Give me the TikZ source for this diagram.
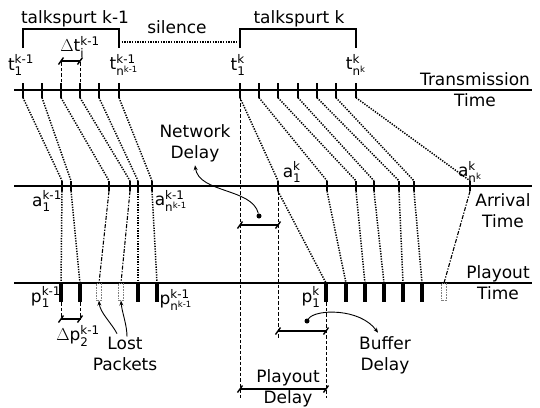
\documentclass[tikz,border=0pt]{standalone}
\usepackage{fontspec}
\setmainfont{DejaVu Sans}
\usepackage{amsmath}
\usetikzlibrary{arrows.meta,decorations.markings}

\begin{document}
\begin{tikzpicture}[x=1pt, y=-1pt,
    every node/.style={font=\fontsize{17}{21}\selectfont},
    axis/.style={line width=1.9pt},
    stick/.style={fill=black, inner sep=0pt, minimum width=2.8pt, minimum height=15pt},
    atick/.style={fill=black, inner sep=0pt, minimum width=2.6pt, minimum height=10pt},
    kept box/.style={fill=black, inner sep=0pt, minimum width=3.2pt, minimum height=19pt, anchor=north},
    lost box/.style={draw=gray, densely dotted, line width=0.6pt, inner sep=0pt, minimum width=5pt, minimum height=17pt, anchor=north},
    ray/.style={line width=1.5pt, dash pattern=on 1.3pt off 1.3pt},
    kept ray/.style={ray},
    lost ray/.style={line width=1.1pt, dash pattern=on 4pt off 1.5pt on 1.3pt off 1.5pt},
    guide/.style={line width=0.8pt, dash pattern=on 3.5pt off 2pt},
    bracket/.style={line width=1.5pt},
    dim/.style={line width=1.4pt, postaction=decorate, decoration={markings,
        mark=at position 0 with {\draw[line width=1.4pt] (-2.5pt,-3.5pt) -- (2.5pt,3.5pt);},
        mark=at position 1 with {\draw[line width=1.4pt] (-2.5pt,-3.5pt) -- (2.5pt,3.5pt);}}},
    pointer/.style={line width=0.9pt, -{Stealth[length=5pt,width=4pt]}},
    dot/.style={circle, fill=black, inner sep=0pt, minimum size=5pt}]

                \useasboundingbox (0,0) rectangle (540,407);

                \draw[axis] (14,90) -- (532,90);
                \draw[axis] (14,186) -- (532,186);
                \draw[axis] (14,283) -- (532,283);

                \node[align=center] at (475,90) (tx-lbl) {Transmission\\Time};
                \node[align=center] at (503,211) (ar-lbl) {Arrival\\Time};
                \node[align=center] at (498,283) (pl-lbl) {Playout\\Time};

                % talkspurt k-1
                \foreach \tx/\ax/\px/\pk [count=\i] in {23/62/61/kept, 42/71/80/kept, 61/109/99/lost,
                        80/130/121/lost, 99/138/138/kept, 119/152/157/kept} {
                    \node[stick] at (\tx,90) (tA\i) {};
                    \node[atick] at (\ax,186) (aA\i) {};
                    \node[\pk\space box] at (\px,283) (pA\i) {};
                    \draw[ray] (tA\i.south) -- (aA\i.north);
                    \draw[\pk\space ray] (aA\i.south) -- (pA\i.north);
                }

                % talkspurt k
                \foreach \tx/\ax/\px/\pk [count=\i] in {240/278/326/kept, 259/327/346/kept, 278/356/365/kept,
                        298/374/384/kept, 317/399/403/kept, 336/414/422/kept, 356/470/444/lost} {
                    \node[stick] at (\tx,90) (tB\i) {};
                    \node[atick] at (\ax,186) (aB\i) {};
                    \node[\pk\space box] at (\px,283) (pB\i) {};
                    \draw[ray] (tB\i.south) -- (aB\i.north);
                    \draw[\pk\space ray] (aB\i.south) -- (pB\i.north);
                }

                \draw[bracket] (tA1 |- 0,48) |- (tA6 |- 0,29) -- (tA6 |- 0,48);
                \draw[bracket] (tB1 |- 0,48) |- (tB7 |- 0,29) -- (tB7 |- 0,48);
                \draw[ray] (tA6 |- 0,42) -- (tB1 |- 0,42);
                \node at (75,19) (ks-prev) {talkspurt k-1};
                \node at (177,27) (silence) {silence};
                \node at (299,19) (ks-cur) {talkspurt k};

                \node at (21,65) (t-first-prev) {t$^{\text{k-1}}_{\text{1}}$};
                \node at (124,65) (t-last-prev) {t$^{\text{k-1}}_{\text{n}^{\text{k-1}}}$};
                \node at (238,65) (t-first) {t$^{\text{k}}_{\text{1}}$};
                \node at (356,65) (t-last) {t$^{\text{k}}_{\text{n}^{\text{k}}}$};

                \node at (47,201) (a-first-prev) {a$^{\text{k-1}}_{\text{1}}$};
                \node at (171,201) (a-last-prev) {a$^{\text{k-1}}_{\text{n}^{\text{k-1}}}$};
                \node at (292,172) (a-first) {a$^{\text{k}}_{\text{1}}$};
                \node at (470,172) (a-last) {a$^{\text{k}}_{\text{n}^{\text{k}}}$};

                \node at (46,297) (p-first-prev) {p$^{\text{k-1}}_{\text{1}}$};
                \node at (176,300) (p-last-prev) {p$^{\text{k-1}}_{\text{n}^{\text{k-1}}}$};
                \node at (311,297) (p-first) {p$^{\text{k}}_{\text{1}}$};

                % spacing of sent and played packets
                \draw[guide] (tA3.north) -- (tA3 |- 0,61);
                \draw[guide] (tA4.north) -- (tA4 |- 0,61);
                \draw[dim] (tA3 |- 0,61) -- (tA4 |- 0,61);
                \node at (80,47) (dt) {$\Delta$t$^{\text{k-1}}_{\text{i}}$};

                \draw[guide] (pA1.south) -- (pA1 |- 0,319);
                \draw[guide] (pA2.south) -- (pA2 |- 0,319);
                \draw[dim] (pA1 |- 0,319) -- (pA2 |- 0,319);
                \node at (78,336) (dp) {$\Delta$p$^{\text{k-1}}_{\text{2}}$};

                \node[align=center] at (125,354) (lost) {Lost\\Packets};
                \draw[pointer] ([xshift=-8pt]lost.north) .. controls +(-5,-10) and +(1,12) .. (pA3.south);
                \draw[pointer] ([xshift=2pt,yshift=-3pt]lost.north) .. controls +(0,-12) and +(1,12) .. (pA4.south);

                % delays of the first packet of talkspurt k
                \draw[guide] (tB1.south) -- (tB1 |- 0,400);
                \draw[guide] (aB1.south) -- (aB1 |- 0,338);
                \draw[guide] (pB1.south) -- (pB1 |- 0,398);
                \draw[dim] (tB1 |- 0,225) -- (aB1 |- 0,225);
                \draw[dim] (aB1 |- 0,331) -- (pB1 |- 0,331);
                \draw[dim] (tB1 |- 0,389) -- (pB1 |- 0,389);

                \node[align=center] at (195,143) (net) {Network\\Delay};
                \node[dot] at (259,216) (net-dot) {};
                \draw[pointer] (net-dot) .. controls +(-7,-28) and +(4,28) .. (net.south);

                \node[align=center] at (385,355) (buf) {Buffer\\Delay};
                \node[dot] at (307,321) (buf-dot) {};
                \draw[pointer] (buf-dot) .. controls +(8,-12) and +(-18,-25) .. ([xshift=-7pt]buf.north);

                \node[align=center] at (288,388) (play) {Playout\\Delay};
            \end{tikzpicture}
\end{document}
